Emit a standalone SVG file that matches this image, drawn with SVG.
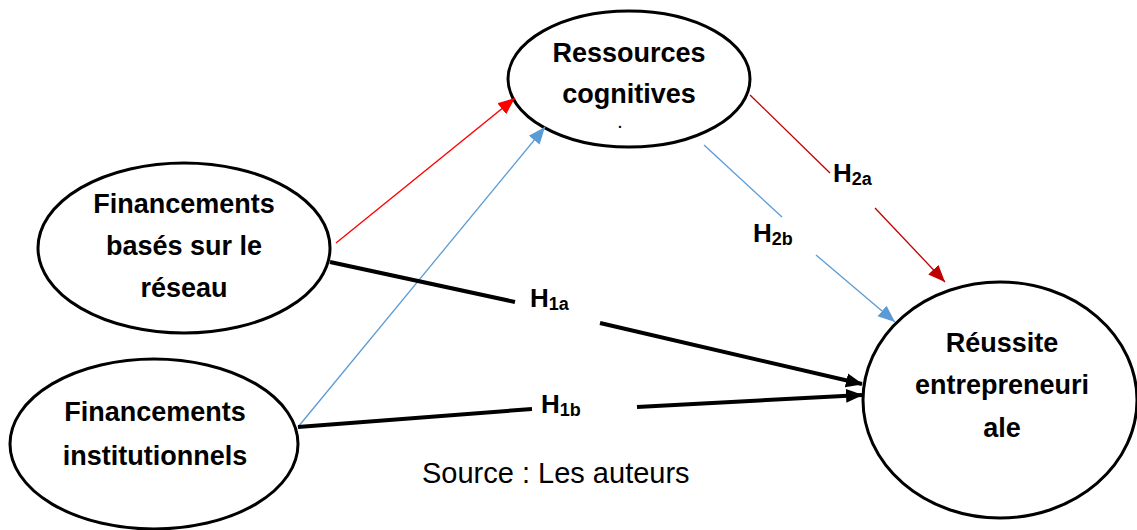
<svg xmlns="http://www.w3.org/2000/svg" width="1137" height="530" viewBox="0 0 1137 530">
<defs>
<style>
.node{fill:#fff;stroke:#000;stroke-width:3}
.t{font-family:"Liberation Sans",Arial,sans-serif;font-weight:bold;font-size:27px;text-anchor:middle;fill:#000}
.dot{font-size:14px}
.h{font-family:"Liberation Sans",Arial,sans-serif;font-weight:bold;font-size:26px;fill:#000}
.s{font-size:18px}
.src{font-family:"Liberation Sans",Arial,sans-serif;font-size:29px;fill:#000}
.red{stroke:#FF0000;stroke-width:1.3;fill:none}
.dred{stroke:#C00000;stroke-width:1.3;fill:none}
.blue{stroke:#5B9BD5;stroke-width:1.3;fill:none}
.blk{stroke:#000;stroke-width:4;fill:none}
</style>
<marker id="aRed" markerUnits="userSpaceOnUse" markerWidth="18" markerHeight="16" viewBox="0 0 18 16" refX="17" refY="8" orient="auto"><path d="M0,1 L17,8 L0,15 Z" fill="#FF0000"/></marker>
<marker id="aDred" markerUnits="userSpaceOnUse" markerWidth="18" markerHeight="16" viewBox="0 0 18 16" refX="17" refY="8" orient="auto"><path d="M0,1 L17,8 L0,15 Z" fill="#C00000"/></marker>
<marker id="aBlue" markerUnits="userSpaceOnUse" markerWidth="18" markerHeight="16" viewBox="0 0 18 16" refX="17" refY="8" orient="auto"><path d="M0,1 L17,8 L0,15 Z" fill="#5B9BD5"/></marker>
<marker id="aBlk" markerUnits="userSpaceOnUse" markerWidth="18" markerHeight="16" viewBox="0 0 18 16" refX="16" refY="8" orient="auto"><path d="M0,1 L17,8 L0,15 Z" fill="#000"/></marker>
</defs>
<rect width="1137" height="530" fill="#fff"/>

<g id="n-ressources">
<ellipse class="node" cx="629" cy="79" rx="121" ry="68"/>
<text class="t" x="629" y="62">Ressources</text>
<text class="t" x="629" y="103">cognitives</text>
<text class="t dot" x="620" y="128">.</text>
</g>
<g id="n-reseau">
<ellipse class="node" cx="184" cy="248" rx="146" ry="85"/>
<text class="t" x="184" y="213">Financements</text>
<text class="t" x="184" y="255">basés sur le</text>
<text class="t" x="184" y="297">réseau</text>
</g>
<g id="n-institutionnels">
<ellipse class="node" cx="154" cy="444" rx="144" ry="85"/>
<text class="t" x="155" y="421">Financements</text>
<text class="t" x="155" y="465">institutionnels</text>
</g>
<g id="n-reussite">
<ellipse class="node" cx="1000" cy="400" rx="137" ry="118"/>
<text class="t" x="1002" y="352">Réussite</text>
<text class="t" x="1002" y="394">entrepreneuri</text>
<text class="t" x="1002" y="437">ale</text>
</g>

<g id="connectors">
<line class="red" x1="336" y1="243" x2="515" y2="98" marker-end="url(#aRed)"/>
<line class="blue" x1="298" y1="427" x2="545" y2="127" marker-end="url(#aBlue)"/>
<line class="dred" x1="750" y1="95" x2="830" y2="173"/>
<line class="dred" x1="875" y1="208" x2="945" y2="282" marker-end="url(#aDred)"/>
<line class="blue" x1="704" y1="145" x2="782" y2="217"/>
<line class="blue" x1="816" y1="255" x2="895" y2="322" marker-end="url(#aBlue)"/>
<line class="blk" x1="330" y1="262" x2="515" y2="302"/>
<line class="blk" x1="600" y1="323" x2="862" y2="384" marker-end="url(#aBlk)"/>
<line class="blk" x1="298" y1="427" x2="532" y2="409"/>
<line class="blk" x1="637" y1="407" x2="862" y2="395" marker-end="url(#aBlk)"/>
</g>

<g id="labels">
<text class="h" x="530" y="307">H<tspan class="s" dy="3">1a</tspan></text>
<text class="h" x="541" y="413">H<tspan class="s" dy="3">1b</tspan></text>
<text class="h" x="833" y="182">H<tspan class="s" dy="3">2a</tspan></text>
<text class="h" x="753" y="242">H<tspan class="s" dy="3">2b</tspan></text>
<text class="src" x="422" y="483">Source : Les auteurs</text>
</g>
</svg>
